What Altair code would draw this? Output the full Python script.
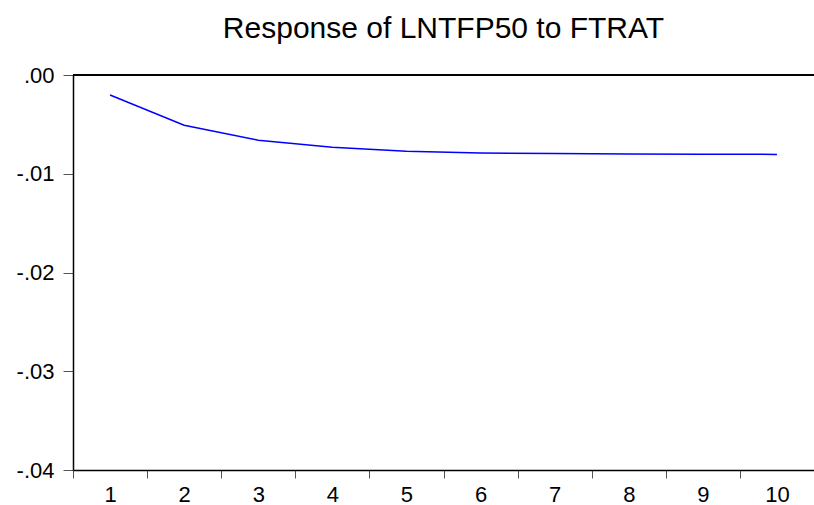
import altair as alt
import pandas as pd

# Impulse response of LNTFP50 to a shock in FTRAT, periods 1..10
periods = [1, 2, 3, 4, 5, 6, 7, 8, 9, 10]
response = [-0.00203, -0.00508, -0.00660, -0.00731, -0.00772,
            -0.00789, -0.00795, -0.00800, -0.00802, -0.00804]
y_ticks = [0.0, -0.01, -0.02, -0.03, -0.04]

df = pd.DataFrame({"period": periods, "response": response})

W, H = 741, 395
FONT = "Liberation Sans"

base = alt.Chart(df)

line = base.mark_line(color="#0000FF", strokeWidth=1.5).encode(
    x=alt.X(
        "period:O",
        scale=alt.Scale(type="band", paddingInner=0, paddingOuter=0),
        axis=alt.Axis(
            title=None,
            labelAngle=0,
            tickBand="extent",
            tickSize=8,
            tickColor="#555555",
            tickWidth=1,
            domainColor="#000000",
            domainWidth=1.5,
            labelPadding=6,
            labelFontSize=22,
            labelFont=FONT,
            labelColor="#000000",
        ),
    ),
    y=alt.Y(
        "response:Q",
        scale=alt.Scale(domain=[-0.04, 0.0], nice=False, zero=False),
        axis=alt.Axis(
            title=None,
            values=y_ticks,
            grid=False,
            tickSize=10,
            tickColor="#555555",
            tickWidth=1,
            domainColor="#000000",
            domainWidth=1.5,
            labelPadding=9,
            labelFontSize=22,
            labelFont=FONT,
            labelColor="#000000",
            labelExpr="replace(replace(format(datum.value, '.2f'), '\u2212', '-'), '0.', '.')",
        ),
    ),
)

# top frame line of the plot area
top_rule = base.mark_rule(color="#000000", strokeWidth=2).encode(
    x=alt.value(0), x2=alt.value(W), y=alt.value(0)
)

chart = (
    alt.layer(line, top_rule)
    .properties(
        width=W,
        height=H,
        title=alt.TitleParams(
            "Response of LNTFP50 to FTRAT",
            font=FONT,
            fontSize=30,
            fontWeight="normal",
            color="#000000",
            anchor="middle",
            offset=20,
        ),
        autosize=alt.AutoSizeParams(type="none"),
        padding={"left": 73, "top": 75, "right": 0, "bottom": 35},
    )
    .configure_view(stroke=None)
    .configure(background="white")
)

chart.save("out.html", embed_options={"renderer": "svg", "actions": False})
